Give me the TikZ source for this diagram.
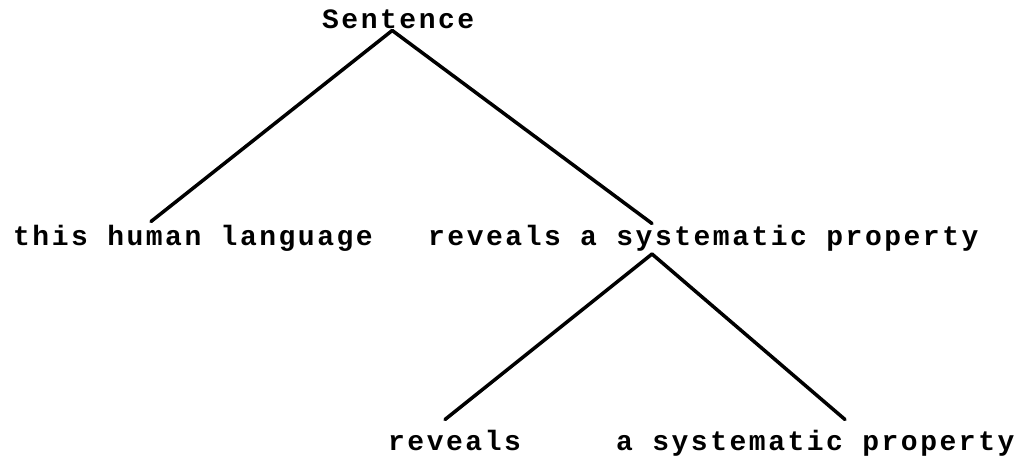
\documentclass[tikz,border=0pt]{standalone}
\usepackage{fontspec}
\setmainfont{Liberation Mono}[LetterSpace=9]
\begin{document}
\begin{tikzpicture}[x=1pt,y=-1pt,
  word/.style={anchor=base west,inner sep=0pt,font=\fontsize{28}{32}\selectfont\bfseries},
  branch/.style={line width=3.5pt,line cap=round}]
\useasboundingbox (0,0) rectangle (1035,458);
\node[word] (sent) at (322,28) {Sentence};
\node[word] (left) at (13,245) {this human language};
\node[word] (right) at (428,245) {reveals a systematic property};
\node[word] (rev) at (388,450) {reveals};
\node[word] (prop) at (616,450) {a systematic property};
\coordinate (top) at ([xshift=-6pt,yshift=-2pt]sent.south);
\coordinate (mid) at ([xshift=224pt,yshift=-3pt]right.south west);
\draw[branch] (top)--([xshift=138pt,yshift=3pt]left.north west);
\draw[branch] (top)--([xshift=224pt,yshift=1pt]right.north west);
\draw[branch] (mid)--([xshift=57pt,yshift=10pt]rev.north west);
\draw[branch] (mid)--([xshift=229pt,yshift=10pt]prop.north west);
\end{tikzpicture}
\end{document}
